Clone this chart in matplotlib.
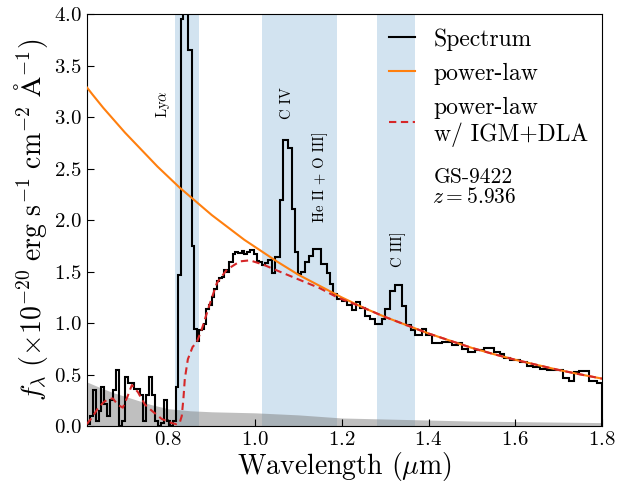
import numpy as np
import matplotlib
matplotlib.use("Agg")
import matplotlib.pyplot as plt

plt.rcParams['font.family'] = 'serif'
plt.rcParams['font.serif'] = ['cmr10']
plt.rcParams['mathtext.fontset'] = 'cm'
plt.rcParams['axes.formatter.use_mathtext'] = True
plt.rcParams['axes.unicode_minus'] = False

# ---------------- data ----------------
spec_edges = [0.612, 0.619, 0.626, 0.633, 0.640, 0.644, 0.651, 0.658, 0.665, 0.672,
              0.679, 0.686, 0.693, 0.700, 0.706, 0.713, 0.720, 0.727, 0.734, 0.741,
              0.748, 0.755, 0.762, 0.769, 0.776, 0.783, 0.789, 0.796, 0.803, 0.810,
              0.817, 0.822, 0.829, 0.833, 0.845, 0.854, 0.859, 0.865, 0.870, 0.877,
              0.882, 0.888, 0.893, 0.900, 0.905, 0.912, 0.916, 0.923, 0.928, 0.935,
              0.941, 0.948, 0.953, 0.960, 0.969, 0.974, 0.981, 0.988, 0.997, 1.004,
              1.008, 1.015, 1.022, 1.029, 1.038, 1.047, 1.057, 1.064, 1.075, 1.084,
              1.091, 1.098, 1.107, 1.114, 1.124, 1.133, 1.153, 1.165, 1.172, 1.179,
              1.188, 1.200, 1.211, 1.223, 1.232, 1.241, 1.253, 1.264, 1.276, 1.292,
              1.299, 1.310, 1.322, 1.338, 1.347, 1.359, 1.368, 1.384, 1.395, 1.407,
              1.430, 1.453, 1.467, 1.478, 1.490, 1.506, 1.529, 1.552, 1.564, 1.575,
              1.587, 1.610, 1.626, 1.640, 1.656, 1.674, 1.695, 1.709, 1.725, 1.736,
              1.748, 1.771, 1.789, 1.801]
spec_flux = [0.02, 0.10, 0.35, 0.05, 0.15, 0.38, 0.22, 0.10, 0.25, 0.35,
             0.55, 0.00, 0.05, 0.48, 0.42, 0.42, 0.36, 0.36, 0.30, 0.05,
             0.30, 0.48, 0.30, 0.05, 0.00, 0.03, 0.25, 0.05, 0.00, 0.05,
             0.38, 1.47, 3.95, 4.50, 3.65, 1.75, 0.94, 0.83, 0.93, 0.94,
             0.99, 1.14, 1.18, 1.25, 1.33, 1.41, 1.44, 1.45, 1.52, 1.50,
             1.59, 1.67, 1.69, 1.68, 1.70, 1.67, 1.69, 1.71, 1.67, 1.60,
             1.59, 1.56, 1.58, 1.61, 1.49, 1.64, 2.20, 2.78, 2.70, 2.11,
             1.69, 1.48, 1.50, 1.59, 1.65, 1.72, 1.57, 1.49, 1.38, 1.28,
             1.23, 1.22, 1.18, 1.13, 1.21, 1.15, 1.07, 1.04, 0.99, 1.04,
             1.14, 1.31, 1.37, 1.17, 0.98, 0.93, 0.89, 0.94, 0.89, 0.81,
             0.815, 0.785, 0.81, 0.75, 0.72, 0.735, 0.755, 0.72, 0.70, 0.66,
             0.645, 0.625, 0.585, 0.575, 0.56, 0.55, 0.545, 0.465, 0.44, 0.525,
             0.535, 0.44, 0.42]

err_wave = [0.612, 0.64, 0.67, 0.70, 0.73, 0.76, 0.80, 0.85, 0.90, 1.00,
            1.10, 1.20, 1.30, 1.40, 1.50, 1.60, 1.70, 1.80]
err_flux = [0.43, 0.38, 0.33, 0.29, 0.25, 0.21, 0.17, 0.15, 0.14, 0.13,
            0.11, 0.08, 0.07, 0.06, 0.05, 0.045, 0.04, 0.035]

pl_wave = [0.612, 0.625, 0.65, 0.675, 0.70, 0.725, 0.75, 0.775, 0.80, 0.825,
           0.85, 0.875, 0.90, 0.925, 0.95, 0.975, 1.00, 1.05, 1.10,
           1.15, 1.20, 1.25, 1.30, 1.35, 1.40, 1.45, 1.50, 1.55, 1.60, 1.65,
           1.70, 1.75, 1.80]
pl_flux = [3.29, 3.22, 3.09, 2.97, 2.85, 2.74, 2.63, 2.52, 2.42, 2.32,
           2.23, 2.14, 2.05, 1.97, 1.89, 1.81, 1.74, 1.60, 1.47,
           1.36, 1.25, 1.15, 1.06, 0.98, 0.90, 0.83, 0.76, 0.70, 0.645, 0.595,
           0.546, 0.503, 0.462]

igm_wave = [0.612, 0.625, 0.637, 0.650, 0.660, 0.672, 0.683, 0.695, 0.706, 0.716,
            0.730, 0.746, 0.762, 0.785, 0.808, 0.819, 0.826, 0.831, 0.835, 0.838,
            0.845, 0.856, 0.865, 0.877, 0.895, 0.912, 0.935, 0.965, 0.988, 1.018,
            1.057, 1.103, 1.149, 1.190, 1.25, 1.30, 1.35, 1.40, 1.45, 1.50, 1.55,
            1.60, 1.65, 1.70, 1.75, 1.80]
igm_flux = [0.02, 0.09, 0.17, 0.23, 0.26, 0.27, 0.21, 0.18, 0.29, 0.40,
            0.33, 0.21, 0.15, 0.07, 0.03, 0.02, 0.03, 0.10, 0.28, 0.46,
            0.65, 0.77, 0.81, 0.94, 1.18, 1.39, 1.52, 1.60, 1.61, 1.57,
            1.50, 1.42, 1.34, 1.25, 1.15, 1.06, 0.98, 0.90, 0.83, 0.76, 0.70,
            0.645, 0.595, 0.546, 0.503, 0.462]

bands = [(0.815, 0.870), (1.017, 1.188), (1.280, 1.368)]
line_labels = [r'Ly$\alpha$', 'C IV', 'He II + O III]', 'C III]']
line_label_x = [0.788, 1.073, 1.151, 1.329]
line_label_y = [3.13, 3.14, 2.42, 1.72]

# ---------------- plot ----------------
fig = plt.figure(figsize=(6.2, 4.86), dpi=100)
ax = fig.add_axes([0.140, 0.123, 0.831, 0.848])

for lo, hi in bands:
    ax.axvspan(lo, hi, color='C0', alpha=0.2, lw=0, zorder=0)

ax.fill_between(err_wave, 0, err_flux, color='gray', alpha=0.5, lw=0, zorder=1)

ax.stairs(spec_flux, spec_edges, color='k', lw=1.5, label='Spectrum', zorder=3)
ax.plot(pl_wave, pl_flux, color='C1', lw=1.5, label='power-law', zorder=4)
ax.plot(igm_wave, igm_flux, color='C3', lw=1.5, ls='--', dashes=(3.5, 2.2),
        label='power-law\nw/ IGM+DLA', zorder=5)

for t, x, y in zip(line_labels, line_label_x, line_label_y):
    ax.text(x, y, t, rotation=90, ha='center', va='center', fontsize=10.5)

ax.text(1.504, 2.51, 'GS-9422\n$z=5.936$', ha='center', va='top', fontsize=15.5,
        multialignment='center', linespacing=1.0)

ax.set_xlim(0.612, 1.8)
ax.set_ylim(0, 4.0)
ax.set_xticks([0.8, 1.0, 1.2, 1.4, 1.6, 1.8])
ax.set_yticks([0.0, 0.5, 1.0, 1.5, 2.0, 2.5, 3.0, 3.5, 4.0])
ax.tick_params(direction='in', labelsize=15, length=5)
ax.set_xlabel(r'Wavelength ($\mu$m)', fontsize=20, labelpad=1)
ax.set_ylabel(r'$f_\lambda\ (\times 10^{-20}\ \mathrm{erg\ s^{-1}\ cm^{-2}\ \AA^{-1}})$',
              fontsize=20, labelpad=3)

ax.legend(loc='upper right', frameon=False, fontsize=17, handlelength=1.1,
          handletextpad=0.8, labelspacing=0.5, borderaxespad=0.2,
          bbox_to_anchor=(1.0, 1.0))

fig.savefig('out.png', dpi=100)
